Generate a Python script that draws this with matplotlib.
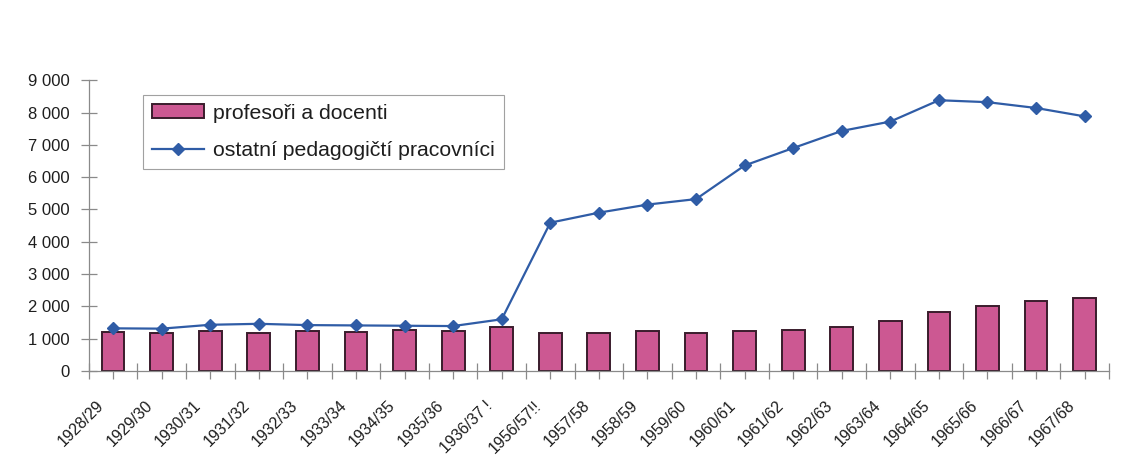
"""Teaching staff at the university, 1928/29 - 1967/68 (bars + line)."""

from __future__ import annotations

import matplotlib

matplotlib.use("Agg")
import matplotlib.pyplot as plt
import numpy as np
from matplotlib.transforms import ScaledTranslation
from matplotlib.ticker import FixedLocator, FuncFormatter

years = [
    "1928/29", "1929/30", "1930/31", "1931/32", "1932/33", "1933/34", "1934/35",
    "1935/36", "1936/37 !", "1956/57!!", "1957/58", "1958/59", "1959/60", "1960/61",
    "1961/62", "1962/63", "1963/64", "1964/65", "1965/66", "1966/67", "1967/68",
]
profesori = [
    1200, 1190, 1240, 1175, 1230, 1220, 1260, 1250, 1370, 1190, 1180,
    1245, 1180, 1245, 1255, 1355, 1550, 1835, 2000, 2175, 2260,
]
ostatni = [
    1320, 1310, 1430, 1460, 1420, 1410, 1400, 1390, 1600, 4590, 4900,
    5150, 5320, 6360, 6900, 7430, 7720, 8380, 8320, 8140, 7880,
]
y_ticks = [0, 1000, 2000, 3000, 4000, 5000, 6000, 7000, 8000, 9000]

BAR_FACE = "#cc5892"
BAR_EDGE = "#3a1c2c"
LINE_COLOR = "#2f5ca6"
AXIS_GRAY = "#8a8a8a"
TEXT = "#1e1e1e"

plt.rcParams["font.family"] = ["Liberation Sans", "DejaVu Sans"]


def thousands(value: float, _pos: int) -> str:
    return f"{int(value):,}".replace(",", " ")


def main() -> None:
    fig = plt.figure(figsize=(11.31, 4.69), dpi=100)
    ax = fig.add_axes([0.0785, 0.209, 0.902, 0.62])

    x = np.arange(len(years))
    bars = ax.bar(
        x, profesori, width=0.47, color=BAR_FACE, edgecolor=BAR_EDGE,
        linewidth=1.4, label="profesoři a docenti", zorder=2,
    )
    (line,) = ax.plot(
        x, ostatni, color=LINE_COLOR, linewidth=1.6, marker="D", markersize=6,
        markeredgecolor=LINE_COLOR, label="ostatní pedagogičtí pracovníci", zorder=3,
    )

    ax.set_xlim(-0.5, len(years) - 0.5)
    ax.set_ylim(0, 9000)
    ax.yaxis.set_major_locator(FixedLocator(y_ticks))
    ax.yaxis.set_major_formatter(FuncFormatter(thousands))

    # category axis: long ticks between categories, short ones under each bar
    ax.set_xticks(np.arange(len(years) + 1) - 0.5)
    ax.set_xticks(x, minor=True)
    ax.tick_params(axis="x", which="both", labelbottom=False)
    ax.tick_params(axis="x", which="major", direction="inout", length=12,
                   width=0.9, color=AXIS_GRAY)
    ax.tick_params(axis="x", which="minor", direction="out", length=6,
                   width=0.9, color=AXIS_GRAY)
    ax.tick_params(axis="y", direction="inout", length=12, width=0.9,
                   color=AXIS_GRAY, labelsize=12, labelcolor=TEXT, pad=8)

    # slanted year labels, top-right corner a little left of the bar centre
    label_tf = ax.get_xaxis_transform() + ScaledTranslation(-0.17, -0.27, fig.dpi_scale_trans)
    for xi, year in zip(x, years):
        ax.text(xi, 0, year, transform=label_tf, rotation=45, ha="right", va="top",
                rotation_mode="anchor", fontsize=11.5, color=TEXT)

    for side in ("top", "right"):
        ax.spines[side].set_visible(False)
    for side in ("left", "bottom"):
        ax.spines[side].set_color(AXIS_GRAY)
        ax.spines[side].set_linewidth(0.9)

    leg = ax.legend(
        [bars, line], [bars.get_label(), line.get_label()],
        loc="upper left", bbox_to_anchor=(0.053, 0.95), fontsize=15.3,
        frameon=True, fancybox=False, handlelength=2.45, handleheight=0.6,
        labelspacing=0.85, borderpad=0.42, handletextpad=0.45, borderaxespad=0,
    )
    leg.get_frame().set_edgecolor(AXIS_GRAY)
    leg.get_frame().set_linewidth(0.8)
    for txt in leg.get_texts():
        txt.set_color(TEXT)

    fig.savefig("out.png", dpi=100, facecolor="white")
    plt.close(fig)


if __name__ == "__main__":
    main()
